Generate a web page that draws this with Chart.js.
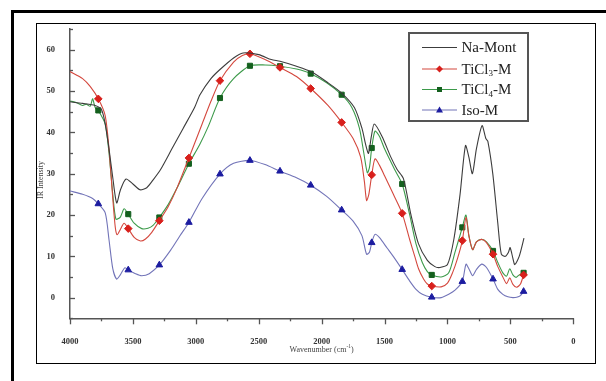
<!DOCTYPE html>
<html>
<head>
<meta charset="utf-8">
<script src="https://cdn.jsdelivr.net/npm/chart.js@4.4.1/dist/chart.umd.min.js"></script>
<style>
  body { margin: 0; background: #fff; }
  #wrap { position: relative; width: 606px; height: 381px; overflow: hidden; }
  #outer { position: absolute; left: 11px; top: 10px; width: 640px; height: 420px; border-left: 3px solid #000; border-top: 3px solid #000; }
  #inner { position: absolute; left: 36px; top: 23px; width: 558px; height: 339px; border: 1.5px solid #000; }
  canvas { position: absolute; left: 0; top: 0; }
</style>
</head>
<body>
<div id="wrap">
  <div id="outer"></div>
  <div id="inner"></div>
  <canvas id="grafica" width="606" height="381"></canvas>
</div>
<script>
// wavenumbers where the symbols sit
const markerWn = [3775, 3537, 3290, 3055, 2808, 2570, 2331, 2087, 1841, 1602, 1360, 1125, 882, 638, 395];

// Na-Mont (black, no symbols)
const naWn = [4000, 3900, 3800, 3750, 3720, 3690, 3660, 3629, 3600, 3555, 3500, 3444, 3390, 3339, 3280, 3190, 3100, 3010, 2967, 2880, 2808, 2700, 2625, 2500, 2400, 2331, 2200, 2085, 1950, 1841, 1740, 1680, 1650, 1628, 1605, 1582, 1520, 1450, 1400, 1350, 1290, 1230, 1160, 1100, 1060, 1000, 950, 900, 857, 830, 802, 770, 725, 695, 679, 640, 600, 572, 540, 515, 502, 480, 465, 430, 392];
const naVal = [47.4, 47, 46.5, 45.5, 42, 36, 29, 22.9, 26, 28.7, 27.5, 26.1, 26.6, 28.5, 31, 36, 41, 46, 49.1, 53, 55.2, 58, 59.2, 58.8, 57.6, 57.2, 56, 54.7, 52, 49.5, 46, 41, 37, 34.9, 39, 42, 39, 34, 31, 28.8, 20, 13, 9, 7.5, 7.3, 8, 14, 25, 36.8, 34, 30, 36, 41.6, 38.5, 37.8, 30, 18, 10.5, 10, 11, 12.1, 9.5, 8, 10, 14.4];

// TiCl3-M (red)
const ti3Wn = [4000, 3900, 3840, 3775, 3720, 3690, 3660, 3640, 3625, 3600, 3570, 3537, 3490, 3440, 3400, 3350, 3290, 3220, 3150, 3055, 2950, 2880, 2808, 2700, 2630, 2570, 2450, 2331, 2200, 2087, 1950, 1841, 1750, 1690, 1660, 1643, 1625, 1602, 1576, 1540, 1500, 1430, 1360, 1300, 1260, 1230, 1190, 1160, 1125, 1050, 1000, 960, 920, 882, 853, 830, 800, 770, 728, 690, 638, 600, 560, 530, 505, 480, 450, 420, 395];
const ti3Val = [54.7, 53, 51.1, 48.1, 44, 36, 24, 17, 15.2, 16.5, 18, 16.7, 14.6, 13.7, 14.2, 15.8, 18.6, 22, 26.5, 33.8, 42, 47.5, 52.5, 57, 58.6, 59, 57.6, 55.7, 53.5, 50.6, 46.5, 42.4, 38.5, 34, 28, 23.5, 25, 29.7, 33.6, 32, 29.5, 25, 20.4, 14, 10, 7, 4.5, 3.3, 2.8, 2.6, 3.5, 6, 9.5, 13.8, 19.4, 15, 11.6, 13.5, 14.1, 13.3, 10.5, 7.5, 5, 3.4, 4.8, 3.2, 2.5, 3.3, 5.5];

// TiCl4-M (green)
const ti4Wn = [4000, 3950, 3900, 3870, 3840, 3820, 3800, 3775, 3720, 3690, 3660, 3635, 3600, 3570, 3537, 3490, 3430, 3380, 3340, 3290, 3220, 3150, 3055, 2970, 2900, 2808, 2700, 2570, 2450, 2331, 2200, 2087, 1960, 1841, 1760, 1700, 1665, 1637, 1620, 1602, 1576, 1540, 1500, 1420, 1360, 1300, 1250, 1200, 1160, 1125, 1050, 990, 940, 882, 853, 830, 800, 770, 728, 690, 638, 600, 560, 530, 505, 480, 455, 430, 395];
const ti4Val = [47.6, 47.2, 46.5, 46.8, 46.3, 48.1, 46, 45.3, 42, 35, 25, 19, 19.5, 21.5, 20.2, 18, 16.7, 16.8, 17.5, 19.4, 22.5, 26.5, 32.4, 37, 41.5, 48.3, 53, 56.1, 56.3, 56, 55.3, 54.2, 52, 49.1, 46, 41, 35, 30.2, 31.5, 36.2, 40.3, 39, 36, 31, 27.5, 20, 13, 8.5, 6.3, 5.5, 5, 6, 11, 17, 20, 15, 11.6, 13.5, 14.1, 13.5, 11.3, 8.5, 6, 5.2, 7, 5.5, 4.9, 5.5, 6];

// Iso-M (blue)
const isoWn = [4000, 3900, 3820, 3775, 3720, 3690, 3660, 3630, 3600, 3565, 3537, 3480, 3430, 3370, 3290, 3200, 3130, 3055, 2950, 2808, 2700, 2570, 2450, 2331, 2200, 2087, 1960, 1841, 1750, 1680, 1643, 1620, 1602, 1576, 1540, 1480, 1420, 1360, 1300, 1250, 1200, 1125, 1050, 990, 940, 882, 853, 830, 800, 770, 728, 690, 638, 600, 560, 520, 480, 450, 420, 395];
const isoVal = [25.8, 25, 24, 22.7, 20.5, 14, 7, 4.5, 5.5, 7.2, 6.7, 5.8, 5.3, 5.8, 7.9, 11.5, 14.8, 18.2, 24, 29.9, 32.5, 33.2, 32.2, 30.6, 29, 27.2, 24.5, 21.2, 18.5, 15, 10.5, 11, 13.3, 15.3, 14.5, 12, 9.5, 6.8, 4, 2, 0.8, 0.1, 0, 0.8, 1.8, 3.9, 8.1, 7, 5.3, 6.8, 8.1, 7.3, 4.5, 2, 0.8, 0.2, 0, 0.1, 0.5, 1.5];

const yTicksMajor = [0, 10, 20, 30, 40, 50, 60];
const xTicksMajor = [4000, 3500, 3000, 2500, 2000, 1500, 1000, 500, 0];

function puntos(wn, val) {
  return wn.map((x, i) => ({ x: x, y: val[i] }));
}

function serie(label, wn, val, linea, marca, estilo, radio) {
  return {
    label: label,
    data: puntos(wn, val),
    borderColor: linea,
    borderWidth: 1.1,
    backgroundColor: marca,
    pointBorderColor: marca,
    pointBackgroundColor: marca,
    pointStyle: estilo,
    pointRadius: ctx => (radio > 0 && markerWn.includes(ctx.raw.x)) ? radio : 0,
    pointBorderWidth: 1,
    tension: 0.25,
    fill: false
  };
}

const datasets = [
  serie('Na-Mont', naWn, naVal, '#3c3c3c', '#3c3c3c', 'circle', 0),
  serie('TiCl3-M', ti3Wn, ti3Val, '#d4483e', '#d8201c', 'rectRot', 3.8),
  serie('TiCl4-M', ti4Wn, ti4Val, '#3c9a4a', '#14601e', 'rect', 3.6),
  serie('Iso-M', isoWn, isoVal, '#7274b8', '#1c1ca0', 'triangle', 3.8)
];

// tick marks, titles and the framed legend
const decoracion = {
  id: 'decoracion',
  afterDraw(chart) {
    const ctx = chart.ctx;
    const xs = chart.scales.x, ys = chart.scales.y;
    const x0 = chart.chartArea.left, y0 = chart.chartArea.bottom;
    ctx.save();
    ctx.strokeStyle = '#555';
    ctx.lineWidth = 1.3;
    for (let v = -5; v <= 65; v += 5) {
      const py = Math.round(ys.getPixelForValue(v)) + 0.5;
      const len = v % 10 === 0 ? 5 : 3;
      ctx.beginPath(); ctx.moveTo(x0, py); ctx.lineTo(x0 + len, py); ctx.stroke();
    }
    for (let v = 0; v <= 4000; v += 250) {
      const px = Math.round(xs.getPixelForValue(v)) + 0.5;
      const len = v % 500 === 0 ? 6 : 3;
      ctx.beginPath(); ctx.moveTo(px, y0); ctx.lineTo(px, y0 + len); ctx.stroke();
    }

    // axis titles
    ctx.fillStyle = '#444';
    ctx.font = '8px "Liberation Serif"';
    ctx.textAlign = 'center';
    ctx.textBaseline = 'middle';
    ctx.save();
    ctx.translate(41, 180);
    ctx.rotate(-Math.PI / 2);
    ctx.fillText('IR Intensity', 0, 0);
    ctx.restore();
    const tx = (chart.chartArea.left + chart.chartArea.right) / 2;
    const base = 'Wavenumber (cm';
    const wBase = ctx.measureText(base).width;
    ctx.font = '5.5px "Liberation Serif"';
    const wSup = ctx.measureText('-1').width;
    ctx.font = '8px "Liberation Serif"';
    const wEnd = ctx.measureText(')').width;
    let sx = tx - (wBase + wSup + wEnd) / 2;
    ctx.textAlign = 'left';
    ctx.fillText(base, sx, 350);
    ctx.font = '5.5px "Liberation Serif"';
    ctx.fillText('-1', sx + wBase, 347);
    ctx.font = '8px "Liberation Serif"';
    ctx.fillText(')', sx + wBase + wSup, 350);

    // legend box
    const bx = 409, by = 33, bw = 119, bh = 88;
    ctx.fillStyle = '#fff';
    ctx.fillRect(bx, by, bw, bh);
    ctx.strokeStyle = '#555';
    ctx.lineWidth = 2;
    ctx.strokeRect(bx, by, bw, bh);
    const filas = [47.5, 69, 89.5, 110];
    const nombres = [['Na-Mont', '', ''], ['TiCl', '3', '-M'], ['TiCl', '4', '-M'], ['Iso-M', '', '']];
    chart.data.datasets.forEach((ds, i) => {
      const ly = filas[i];
      ctx.strokeStyle = ds.borderColor;
      ctx.lineWidth = 1.2;
      ctx.beginPath(); ctx.moveTo(422, ly); ctx.lineTo(457, ly); ctx.stroke();
      ctx.fillStyle = ds.pointBackgroundColor;
      const cx = 439.5;
      if (ds.pointStyle === 'rectRot') {
        ctx.beginPath(); ctx.moveTo(cx, ly - 3.5); ctx.lineTo(cx + 3.5, ly); ctx.lineTo(cx, ly + 3.5); ctx.lineTo(cx - 3.5, ly); ctx.closePath(); ctx.fill();
      } else if (ds.pointStyle === 'rect') {
        ctx.fillRect(cx - 2.5, ly - 2.5, 5, 5);
      } else if (ds.pointStyle === 'triangle') {
        ctx.beginPath(); ctx.moveTo(cx, ly - 3.5); ctx.lineTo(cx + 3.5, ly + 2.5); ctx.lineTo(cx - 3.5, ly + 2.5); ctx.closePath(); ctx.fill();
      }
      ctx.fillStyle = '#222';
      ctx.textAlign = 'left';
      ctx.textBaseline = 'middle';
      const [a, sub, b] = nombres[i];
      ctx.font = '15px "Liberation Serif"';
      let px = 461.5;
      ctx.fillText(a, px, ly + 1);
      px += ctx.measureText(a).width;
      if (sub) {
        ctx.font = '9px "Liberation Serif"';
        ctx.fillText(sub, px, ly + 5);
        px += ctx.measureText(sub).width;
        ctx.font = '15px "Liberation Serif"';
        ctx.fillText(b, px, ly + 1);
      }
    });
    ctx.restore();
  }
};

const ctx = document.getElementById('grafica').getContext('2d');
new Chart(ctx, {
  type: 'line',
  data: { datasets: datasets },
  options: {
    responsive: false,
    animation: false,
    layout: { padding: { left: 36, right: 32.7, top: 29, bottom: 26 } },
    plugins: { legend: { display: false }, tooltip: { enabled: false } },
    scales: {
      x: {
        type: 'linear',
        reverse: true,
        min: 0,
        max: 4000,
        grid: { display: false },
        border: { display: true, color: '#555', width: 1.5 },
        afterFit: s => { s.height = 36.7; },
        ticks: {
          stepSize: 250,
          autoSkip: false,
          maxRotation: 0,
          padding: 10,
          color: '#333',
          font: { family: 'Liberation Serif', size: 8.5, weight: 'bold' },
          callback: v => xTicksMajor.includes(v) ? String(v) : ''
        }
      },
      y: {
        min: -5,
        max: 65,
        grid: { display: false },
        border: { display: true, color: '#555', width: 1.5 },
        afterFit: s => { s.width = 34; },
        ticks: {
          stepSize: 5,
          autoSkip: false,
          padding: 7,
          color: '#333',
          font: { family: 'Liberation Serif', size: 8.5, weight: 'bold' },
          callback: v => yTicksMajor.includes(v) ? String(v) : ''
        }
      }
    }
  },
  plugins: [decoracion]
});
</script>
</body>
</html>
